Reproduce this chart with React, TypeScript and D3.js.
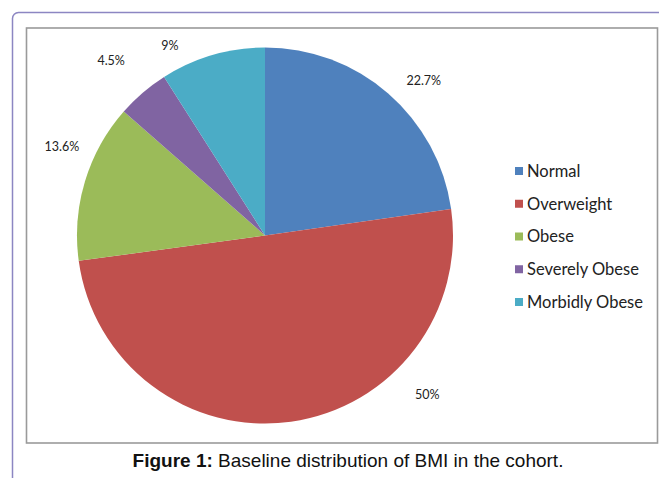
import React from "react";
import * as d3 from "d3";

const categories = ["Normal", "Overweight", "Obese", "Severely Obese", "Morbidly Obese"];
const values = [22.7, 50, 13.6, 4.5, 9];
const valueLabels = ["22.7%", "50%", "13.6%", "4.5%", "9%"];
const colors = ["#4F81BD", "#C0504D", "#9BBB59", "#8064A2", "#4BACC6"];

// label placement (polar, relative to pie centre): [angle deg clockwise from top, radius factor]
const labelPolar: [number, number][] = [
  [45.7, 1.18],
  [134.5, 1.21],
  [293.7, 1.18],
  [318.7, 1.24],
  [333.4, 1.13],
];

const W = 659;
const H = 478;
const cx = 265;
const cy = 235.5;
const R = 188;

export default function App() {
  const pie = d3
    .pie<number>()
    .sort(null)
    .value((d) => d)(values);
  const arc = d3.arc<d3.PieArcDatum<number>>().innerRadius(0).outerRadius(R);

  const legendY = d3
    .scalePoint<string>()
    .domain(categories)
    .range([171, 302]);

  return (
    <svg
      width={W}
      height={H}
      style={{ position: "absolute", left: 0, top: 0, background: "#fff" }}
    >
      <rect x={0} y={0} width={W} height={H} fill="#fff" />
      {/* outer frame */}
      <rect
        x={12.5}
        y={12.5}
        width={W + 20}
        height={H + 20}
        rx={6}
        fill="none"
        stroke="#8C86C2"
        strokeWidth={1.5}
      />
      {/* chart box */}
      <rect
        x={26.5}
        y={28}
        width={631}
        height={415}
        fill="#fff"
        stroke="#9a9a9a"
        strokeWidth={1.6}
      />
      <g transform={`translate(${cx},${cy})`}>
        {pie.map((p, i) => (
          <path key={i} d={arc(p) || ""} fill={colors[i]} />
        ))}
        {pie.map((p, i) => {
          const [a, f] = labelPolar[i];
          const rad = (a * Math.PI) / 180;
          const x = Math.sin(rad) * R * f;
          const y = -Math.cos(rad) * R * f;
          return (
            <text
              key={"l" + i}
              x={x}
              y={y}
              dy="0.35em"
              textAnchor="middle"
              fontFamily="Lato, sans-serif"
              fontSize={12.5}
              fill="#222"
            >
              {valueLabels[i]}
            </text>
          );
        })}
      </g>
      {categories.map((c, i) => {
        const y = legendY(c)!;
        return (
          <g key={"lg" + i}>
            <rect x={515} y={y - 4} width={8} height={8} fill={colors[i]} />
            <text
              x={527}
              y={y}
              dy="0.36em"
              fontFamily="Lato, sans-serif"
              fontSize={16.5}
              fill="#222"
            >
              {c}
            </text>
          </g>
        );
      })}
      <text
        x={348}
        y={467}
        textAnchor="middle"
        fontFamily="'Liberation Sans', Arial, sans-serif"
        fontSize={19}
        fill="#111"
      >
        <tspan fontWeight="bold">Figure 1:</tspan> Baseline distribution of BMI in the cohort.
      </text>
    </svg>
  );
}
